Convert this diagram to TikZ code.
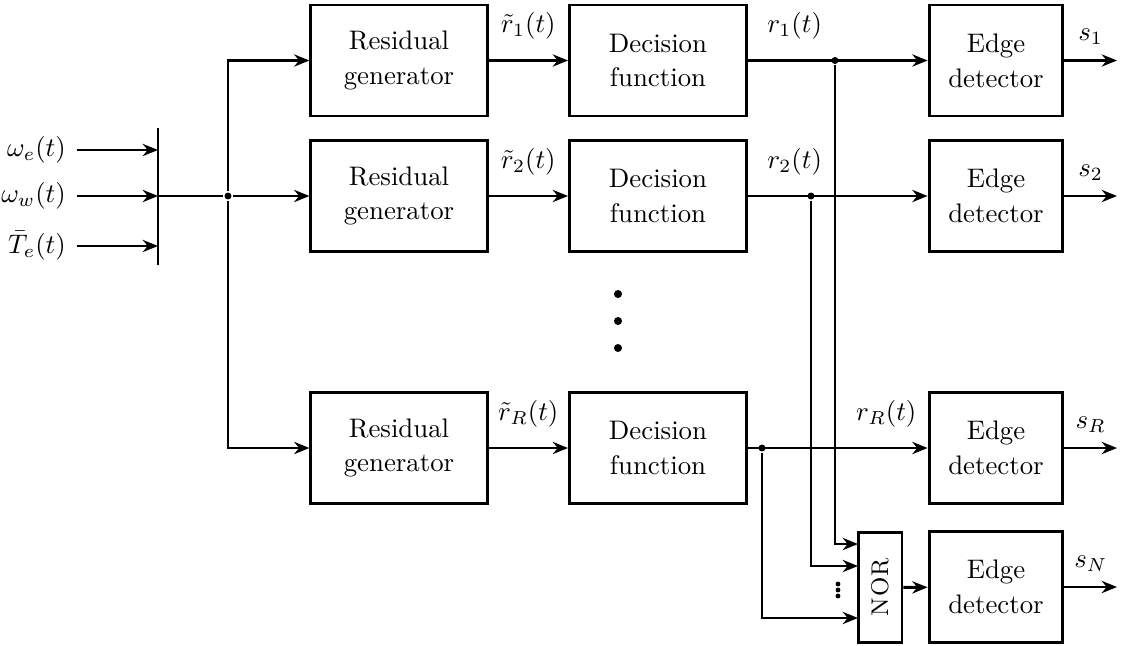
\documentclass[tikz,border=0pt]{standalone}
\usepackage{amsmath,amssymb,graphicx}
\usetikzlibrary{arrows.meta}

\begin{document}
\begin{tikzpicture}[x=0.0131cm, y=-0.0131cm, line width=1.1pt, >={Stealth[length=2mm,width=1.6mm]},
    main/.style = {draw, minimum height=1.455cm, align=center, inner sep=0pt},
    res/.style = {main, minimum width=2.31cm},
    dec/.style = {main, minimum width=2.32cm},
    det/.style = {main, minimum width=1.755cm},
    inp/.style = {anchor=east, inner sep=1pt},
    jn/.style = {circle, fill, inner sep=0pt, minimum size=2.6pt}]
    \useasboundingbox (0,0) rectangle (1122,645);
    % inputs
    \node[inp] (we) at (70,150) {$\omega_e(t)$};
    \node[inp] (ww) at (70,196) {$\omega_w(t)$};
    \node[inp] (te) at (70,246) {$\bar{T}_e(t)$};
    \coordinate (bt) at (158,128);
    \coordinate (bb) at (158,265);
    \draw (bt) -- (bb);
    \draw[->, shorten <=2.5pt] (we) -- (we -| bt);
    \draw[->, shorten <=2.5pt] (ww) -- (ww -| bt);
    \draw[->, shorten <=2.5pt] (te) -- (te -| bt);
    \node[jn] (j0) at (228,196) {};
    \draw (ww -| bt) -- (j0);
    % residual generators
    \node[res] (r1) at (399,60.5) {Residual\\[1pt]generator};
    \node[res] (r2) at (399,196) {Residual\\[1pt]generator};
    \node[res] (r3) at (399,448) {Residual\\[1pt]generator};
    \draw[->] (j0) |- (r1);
    \draw[->] (j0) -- (r2);
    \draw[->] (j0) |- (r3);
    % decision functions
    \node[dec] (d1) at (658,60.5) {Decision\\[1pt]function};
    \node[dec] (d2) at (658,196) {Decision\\[1pt]function};
    \node[dec] (d3) at (658,448) {Decision\\[1pt]function};
    \draw[->] (r1) -- node[above=4pt] {$\tilde{r}_1(t)$} (d1);
    \draw[->] (r2) -- node[above=4pt] {$\tilde{r}_2(t)$} (d2);
    \draw[->] (r3) -- node[above=4pt] {$\tilde{r}_R(t)$} (d3);
    \foreach \y in {294,321,348} \fill (618,\y) circle (1.5pt);
    % edge detectors
    \node[det] (e1) at (996,60.5) {Edge\\[1pt]detector};
    \node[det] (e2) at (996,196) {Edge\\[1pt]detector};
    \node[det] (e3) at (996,448) {Edge\\[1pt]detector};
    \node[det] (e4) at (996,587) {Edge\\[1pt]detector};
    \node[draw, minimum width=0.576cm, minimum height=1.43cm, inner sep=0pt] (nor) at (880,587.5) {\rotatebox{90}{\small N\kern0.5pt O\kern0.5pt R}};
    \node[jn] (j1) at (835,60.5) {};
    \node[jn] (j2) at (811,196) {};
    \node[jn] (j3) at (762,448) {};
    \draw[->] (d1) -- node[above=4pt, pos=0.26] {$r_1(t)$} (e1);
    \draw[->] (d2) -- node[above=4pt, pos=0.26] {$r_2(t)$} (e2);
    \draw[->] (d3) -- node[above=4pt, pos=0.77] {$r_R(t)$} (e3);
    \coordinate (n1) at (858,544);
    \coordinate (n2) at (858,566);
    \coordinate (n3) at (858,618);
    \draw[->] (j1) |- (n1);
    \draw[->] (j2) |- (n2);
    \draw[->] (j3) |- (n3);
    \foreach \y in {584,590,596} \fill (838,\y) circle (0.9pt);
    \draw[->] (nor) -- (e4);
    % outputs
    \coordinate (out) at (1117,0);
    \draw[->] (e1) -- node[above=2pt] {$s_1$} (e1 -| out);
    \draw[->] (e2) -- node[above=2pt] {$s_2$} (e2 -| out);
    \draw[->] (e3) -- node[above=2pt] {$s_R$} (e3 -| out);
    \draw[->] (e4) -- node[above=2pt] {$s_N$} (e4 -| out);
\end{tikzpicture}
\end{document}
